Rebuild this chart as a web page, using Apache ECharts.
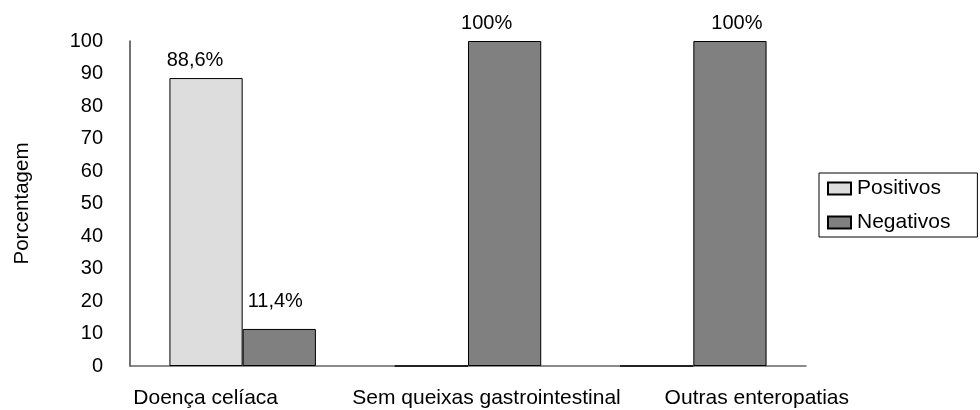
<!DOCTYPE html>
<html>
<head>
<meta charset="utf-8">
<script src="https://cdn.jsdelivr.net/npm/echarts@6/dist/echarts.min.js"></script>
<style>
html,body{margin:0;padding:0;background:#fff;}
#chart{width:980px;height:410px;}
</style>
</head>
<body>
<div id="chart"></div>
<script>
const categories = ['Doença celíaca', 'Sem queixas gastrointestinal', 'Outras enteropatias'];
const positivos = [88.6, 0, 0];
const negativos = [11.4, 100, 100];
const yTicks = [0, 10, 20, 30, 40, 50, 60, 70, 80, 90, 100];

// label nudges (styling only)
const posLabelOffsets = [[-11, 0], [0, 0], [0, 0]];
const negLabelOffsets = [[-4, -9], [-18, 0], [7, 0]];
const catLabelPads = [[0, 74, 0, 0], [0, 0, 0, 37], [0, 0, 0, 127]];

const FONT = 'Liberation Sans, Arial, sans-serif';

function fmt(v) {
  if (!v) return '';
  return (Number.isInteger(v) ? String(v) : v.toFixed(1).replace('.', ',')) + '%';
}
function mkData(vals, offs) {
  return vals.map((v, i) => ({ value: v, label: { offset: offs[i] } }));
}
const rich = {};
catLabelPads.forEach((p, i) => {
  rich['c' + i] = { padding: p, fontSize: 21, fontFamily: FONT, color: '#000' };
});

const chart = echarts.init(document.getElementById('chart'), null, { renderer: 'canvas' });
chart.setOption({
  backgroundColor: '#fff',
  animation: false,
  grid: { left: 130, right: 174, top: 41, bottom: 44, containLabel: false },
  legend: {
    orient: 'vertical',
    left: 819, top: 173,
    padding: [5, 27, 4, 8],
    borderColor: '#000', borderWidth: 1,
    itemWidth: 23, itemHeight: 12, itemGap: 13,
    icon: 'rect',
    textStyle: { fontSize: 21, fontFamily: FONT, color: '#000', padding: [0, 0, 0, 1] },
    data: ['Positivos', 'Negativos']
  },
  xAxis: {
    type: 'category',
    data: categories,
    axisLine: { lineStyle: { color: '#666', width: 1.5 } },
    axisTick: { show: false },
    axisLabel: {
      interval: 0,
      margin: 22,
      formatter: (v, i) => '{c' + i + '|' + v + '}',
      rich: rich
    }
  },
  yAxis: {
    type: 'value',
    min: yTicks[0], max: yTicks[yTicks.length - 1], interval: 10,
    name: 'Porcentagem',
    nameLocation: 'middle',
    nameGap: 97,
    nameRotate: 90,
    nameTextStyle: { fontSize: 20.5, fontFamily: FONT, color: '#000' },
    axisLine: { show: true, lineStyle: { color: '#444', width: 1.5 } },
    axisTick: { show: false },
    splitLine: { show: false },
    axisLabel: { margin: 27, fontSize: 20, fontFamily: FONT, color: '#000' }
  },
  series: [
    {
      name: 'Positivos', type: 'bar',
      data: mkData(positivos, posLabelOffsets),
      barGap: '0%', barCategoryGap: '35%',
      itemStyle: { color: '#dddddd', borderColor: '#000', borderWidth: 1 },
      label: { show: true, position: 'top', distance: 8, fontSize: 20, fontFamily: FONT, color: '#000',
        formatter: p => fmt(p.value) }
    },
    {
      name: 'Negativos', type: 'bar',
      data: mkData(negativos, negLabelOffsets),
      barGap: '0%', barCategoryGap: '35%',
      itemStyle: { color: '#808080', borderColor: '#000', borderWidth: 1 },
      label: { show: true, position: 'top', distance: 8, fontSize: 20, fontFamily: FONT, color: '#000',
        formatter: p => fmt(p.value) }
    }
  ]
});
</script>
</body>
</html>
